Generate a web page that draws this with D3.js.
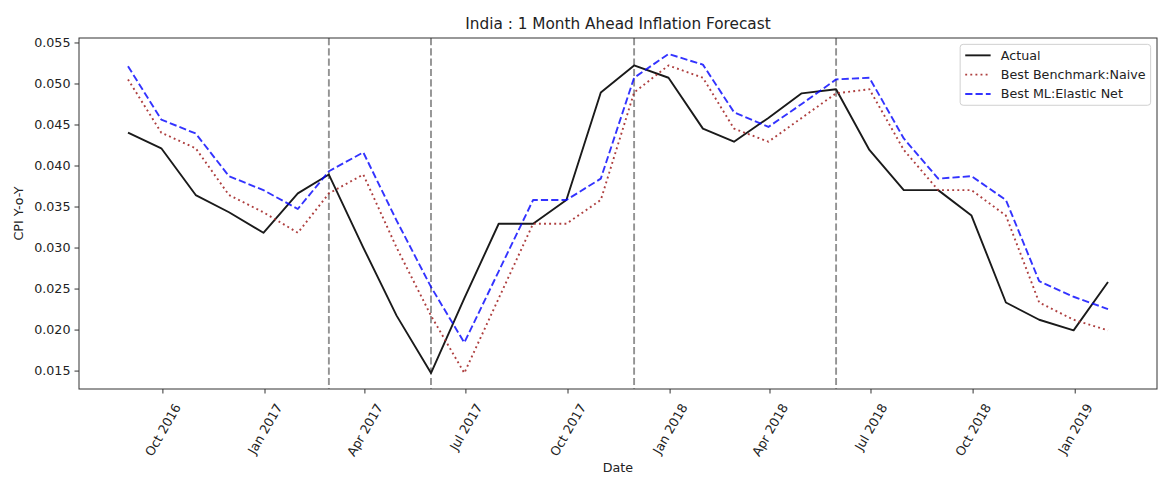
<!DOCTYPE html>
<html>
<head>
<meta charset="utf-8">
<script src="https://cdn.jsdelivr.net/npm/d3@7"></script>
<style>
  html, body { margin: 0; padding: 0; background: #fff; }
  svg { display: block; font-family: "DejaVu Sans", sans-serif; }
</style>
</head>
<body>
<svg id="chart" width="1159" height="487"></svg>
<script>
// Monthly observations (month-end dates)
const dates = [
  "2016-08-31","2016-09-30","2016-10-31","2016-11-30","2016-12-31",
  "2017-01-31","2017-02-28","2017-03-31","2017-04-30","2017-05-31","2017-06-30",
  "2017-07-31","2017-08-31","2017-09-30","2017-10-31","2017-11-30","2017-12-31",
  "2018-01-31","2018-02-28","2018-03-31","2018-04-30","2018-05-31","2018-06-30",
  "2018-07-31","2018-08-31","2018-09-30","2018-10-31","2018-11-30","2018-12-31",
  "2019-01-31"
];

// CPI year-on-year inflation
const actual = [
  0.0440, 0.0421, 0.0364, 0.0343, 0.0318,
  0.0366, 0.0389, 0.0300, 0.0217, 0.0147, 0.0238,
  0.0329, 0.0329, 0.0358, 0.0489, 0.0522, 0.0507,
  0.0445, 0.0429, 0.0458, 0.0488, 0.0493, 0.0419,
  0.0370, 0.0370, 0.0339, 0.0233, 0.0212, 0.0199,
  0.0258
];

// Naive benchmark forecast
const naive = [
  0.0505, 0.0440, 0.0421, 0.0364, 0.0343,
  0.0318, 0.0366, 0.0389, 0.0300, 0.0217, 0.0147,
  0.0238, 0.0329, 0.0329, 0.0358, 0.0489, 0.0522,
  0.0507, 0.0445, 0.0429, 0.0458, 0.0488, 0.0493,
  0.0419, 0.0370, 0.0370, 0.0339, 0.0233, 0.0212,
  0.0199
];

// Elastic net forecast
const elasticNet = [
  0.0521, 0.0456, 0.0439, 0.0387, 0.0370,
  0.0347, 0.0393, 0.0416, 0.0333, 0.0252, 0.0184,
  0.0271, 0.0358, 0.0358, 0.0384, 0.0507, 0.0536,
  0.0523, 0.0465, 0.0447, 0.0475, 0.0505, 0.0507,
  0.0433, 0.0384, 0.0387, 0.0358, 0.0259, 0.0240,
  0.0225
];

// Marked turning points
const markerDates = ["2017-02-28","2017-05-31","2017-11-30","2018-05-31"];

// Axis ticks
const xTickDates = ["2016-10-01","2017-01-01","2017-04-01","2017-07-01","2017-10-01",
                    "2018-01-01","2018-04-01","2018-07-01","2018-10-01","2019-01-01"];
const yTicks = [0.015, 0.020, 0.025, 0.030, 0.035, 0.040, 0.045, 0.050, 0.055];

const seriesNames = ["Actual", "Best Benchmark:Naive", "Best ML:Elastic Net"];
const titleText = "India : 1 Month Ahead Inflation Forecast";

// ---- layout ----
const parse = d3.utcParse("%Y-%m-%d");
const fmt = d3.utcFormat("%b %Y");
const X0 = 79, X1 = 1157, Y0 = 38, Y1 = 389;
const FS = 12.7;

const svg = d3.select("#chart");
const t = dates.map(parse);

// 5% padding on both axes around the data extent
const tExt = d3.extent(t);
const tPad = (tExt[1] - tExt[0]) * 0.05;
const x = d3.scaleUtc()
  .domain([new Date(+tExt[0] - tPad), new Date(+tExt[1] + tPad)])
  .range([X0, X1]);

const allVals = actual.concat(naive, elasticNet);
const vExt = d3.extent(allVals);
const vPad = (vExt[1] - vExt[0]) * 0.05;
const y = d3.scaleLinear()
  .domain([vExt[0] - vPad, vExt[1] + vPad])
  .range([Y1, Y0]);

// vertical markers
svg.append("g").selectAll("line")
  .data(markerDates.map(parse))
  .join("line")
  .attr("x1", d => x(d)).attr("x2", d => x(d))
  .attr("y1", Y0).attr("y2", Y1)
  .attr("stroke", "#808080").attr("stroke-opacity", 0.85)
  .attr("stroke-width", 1.9)
  .attr("stroke-dasharray", "7.2,3.1");

const line = vals => d3.line()
  .x((d, i) => x(t[i]))
  .y(d => y(d))(vals);

const styles = [
  { vals: actual, color: "#1a1a1a", dash: null, width: 1.9, op: 1 },
  { vals: naive, color: "#a52a2a", dash: "1.9,3.2", width: 1.9, op: 0.9 },
  { vals: elasticNet, color: "#0000ff", dash: "7.2,3.1", width: 1.9, op: 0.8 }
];

const lines = svg.append("g").attr("fill", "none");
styles.forEach(s => {
  lines.append("path")
    .attr("d", line(s.vals))
    .attr("stroke", s.color)
    .attr("stroke-opacity", s.op)
    .attr("stroke-width", s.width)
    .attr("stroke-dasharray", s.dash)
    .attr("stroke-linejoin", "round");
});

// axes frame
svg.append("rect")
  .attr("x", X0).attr("y", Y0)
  .attr("width", X1 - X0).attr("height", Y1 - Y0)
  .attr("fill", "none").attr("stroke", "#333").attr("stroke-width", 1);

// y axis
const yAxis = svg.append("g")
  .attr("transform", `translate(${X0},0)`)
  .call(d3.axisLeft(y).tickValues(yTicks).tickFormat(d3.format(".3f")).tickSize(4.5).tickPadding(4));
yAxis.select(".domain").remove();
yAxis.selectAll("line").attr("stroke", "#333");
yAxis.selectAll("text")
  .attr("font-size", FS).attr("fill", "#222")
  .attr("font-family", "DejaVu Sans");

// x axis
const xAxis = svg.append("g")
  .attr("transform", `translate(0,${Y1})`)
  .call(d3.axisBottom(x).tickValues(xTickDates.map(parse)).tickFormat(fmt).tickSize(4.5));
xAxis.select(".domain").remove();
xAxis.selectAll("line").attr("stroke", "#333");
const labelTop = 12;
const ang = 60 * Math.PI / 180;
xAxis.selectAll("text")
  .attr("font-size", FS).attr("fill", "#222")
  .attr("font-family", "DejaVu Sans")
  .attr("text-anchor", "middle")
  .attr("dominant-baseline", "central")
  .attr("dy", null)
  .attr("y", null)
  .each(function () {
    const w = this.getComputedTextLength();
    const h = FS * 1.15;
    const cy = labelTop + (w * Math.sin(ang) + h * Math.cos(ang)) / 2;
    d3.select(this).attr("transform", `translate(0,${cy}) rotate(-60)`);
  });

// titles
svg.append("text")
  .attr("x", (X0 + X1) / 2).attr("y", 29)
  .attr("text-anchor", "middle")
  .attr("font-size", 15.3).attr("fill", "#222")
  .text(titleText);

svg.append("text")
  .attr("x", (X0 + X1) / 2).attr("y", 472)
  .attr("text-anchor", "middle")
  .attr("font-size", FS).attr("fill", "#222")
  .text("Date");

svg.append("text")
  .attr("transform", `translate(23,${(Y0 + Y1) / 2}) rotate(-90)`)
  .attr("text-anchor", "middle")
  .attr("font-size", FS).attr("fill", "#222")
  .text("CPI Y-o-Y");

// legend
const pad = 0.4 * FS, hLen = 2 * FS, hGap = 0.8 * FS, rowH = 19.3;
const leg = svg.append("g");
const box = leg.append("rect");
const texts = [];
styles.forEach((s, i) => {
  const texEl = leg.append("text")
    .attr("font-size", FS).attr("fill", "#222")
    .attr("dominant-baseline", "central")
    .text(seriesNames[i]);
  texts.push(texEl);
});
const maxW = d3.max(texts, el => el.node().getComputedTextLength());
const boxW = pad + hLen + hGap + maxW + pad;
const boxH = 3 * rowH + 3;
const bx = X1 - 0.5 * FS - boxW, by = Y0 + 0.5 * FS;
box.attr("x", bx).attr("y", by).attr("width", boxW).attr("height", boxH)
  .attr("rx", 3).attr("fill", "#fff").attr("fill-opacity", 0.8)
  .attr("stroke", "#d0d0d0").attr("stroke-width", 1);
styles.forEach((s, i) => {
  const cy = by + 11 + i * rowH;
  leg.append("line")
    .attr("x1", bx + pad).attr("x2", bx + pad + hLen)
    .attr("y1", cy).attr("y2", cy)
    .attr("stroke", s.color).attr("stroke-opacity", s.op)
    .attr("stroke-width", s.width)
    .attr("stroke-dasharray", s.dash);
  texts[i].attr("x", bx + pad + hLen + hGap).attr("y", cy);
});
</script>
</body>
</html>
